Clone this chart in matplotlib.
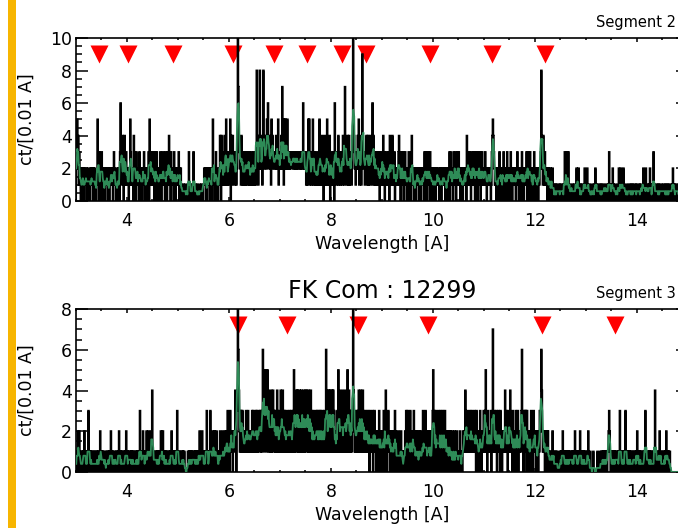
import numpy as np
import matplotlib
matplotlib.use("Agg")
import matplotlib.pyplot as plt
from matplotlib.patches import Rectangle
from matplotlib.ticker import MultipleLocator

# wavelength grid: 0.01 A bins from 3 to 15 A
lam_lo, lam_hi, dlam = 3.0, 15.0, 0.01

# counts per 0.01 A bin, one row per angstrom, ten bins per group
# (hex digits so that 'a' = 10, 'c' = 12)
seg2_counts = [
    "2352413120 1202120112 2101221012 1210212101 1152031203 3120121021 1210201212 2102312101 1202103621 1430242131",
    "2120125312 1204312031 2120312102 1213021201 2130521312 3120312031 2102132012 3121031203 2141203121 2031202121",
    "1302120101 1010110011 0310110101 3101101010 0110101101 1212021012 1210212051 2120312101 1242041321 1412521312",
    "3250431423 2132124c74 3231423121 2313213231 3121322131 2313832142 8232413823 3242536243 2315342322 3242325132",
    "3242723152 5232523232 3222332323 2323232232 3232262322 2131252512 3212521321 2131212513 2141302412 2153121402",
    "2312130623 3132413212 2314231732 3142141323 134c542312 3242513241 2943231324 3141324132 2614231313 2131302132",
    "2141302132 1213041312 4121302121 2134120312 1302131201 2130120341 1201210212 2102120121 1203213021 3120312102",
    "1201202112 2102120121 1212012102 1230312120 3121302131 3120212101 2121204131 2312031213 1302132031 2130213121",
    "1231201212 2120134543 2121021201 3120212031 1202130212 2031202121 1202131202 2120312021 1213031302 3120212031",
    "2102120212 2384214213 1212021201 2101201010 1010110101 0110101031 1031030101 1011010110 1210120101 0101101210",
    "1021011010 0110101021 1010110101 0101101101 1010130101 1021010110 0110201021 1012010110 0101101010 1010110101",
    "0110101011 1021010201 1010120101 0131010110 1010101101 0110101010 1010110101 2101010110 1010101011 0101010101",
]

seg3_counts = [
    "1012012010 0101012010 1010310101 0100101001 0101001201 1010110010 0101010120 1010011010 0101201010 1001010120",
    "1010110101 0101001010 1010031010 1201010120 0121010214 1010110101 0101012010 2010101010 0101010210 1010101031",
    "0101001010 1010000001 0101010101 1010101010 1020101201 0101013010 1013010120 1201021010 0120101201 1021201310",
    "1031212021 1242034a64 2131323121 1213121312 2121231312 2131312132 2313126351 3253152413 2141324132 3121413121",
    "2413142131 3121231213 2131213512 3142413142 1413241314 2142314131 4131213121 2313121313 1213121312 6141314241",
    "3142413121 2131521412 3141213412 2153141313 1329431213 2131413141 3141312131 2131203121 1302131202 2120312021",
    "1203120410 2131202120 1202031201 0120101210 1010120301 3020131021 2031020120 1020120101 3102031020 1202101203",
    "5130213021 1302130213 0213021201 1201201020 1020102101 0120101021 1214121312 2131213121 1312031210 2031201213",
    "2135120312 1213021721 3121302131 2031202121 2413120312 1421203120 2130213021 2123621031 3130312021 2030120312",
    "1201210213 2364212120 2102120101 1010201010 0101000010 1010210101 0101010101 1010101021 0101010120 1010101010",
    "0101200010 0000100000 0010000100 1010101010 1011232101 0101010101 1010103101 0101010310 1010101010 0101101010",
    "2010101010 0101013101 1010101010 0101040101 1010201010 0101010201 1010100000 0000000000 0000000000 0000000000",
]

# line markers (A)
seg2_lines = [3.46, 4.01, 4.90, 6.07, 6.88, 7.52, 8.22, 8.69, 9.94, 11.15, 12.19]
seg3_lines = [6.17, 7.14, 8.52, 9.90, 12.13, 13.56]


def decode(rows):
    digits = "".join(rows).replace(" ", "")
    return np.array([int(ch, 16) for ch in digits], dtype=float)


def draw_segment(ax, rows, lines, ymax, name, title=None):
    counts = decode(rows)
    edges = lam_lo + dlam * np.arange(len(counts) + 1)
    centers = edges[:-1] + dlam / 2
    smooth = np.convolve(counts, np.ones(5) / 5, mode="same")

    ax.plot(lines, np.full(len(lines), 0.9), "v", color="red", ms=13.5,
            mec="none", transform=ax.get_xaxis_transform(), zorder=1.5)
    ax.stairs(counts, edges, color="black", lw=1.5, zorder=2)
    ax.plot(centers, smooth, color="#2E8B57", lw=1.3, zorder=3)

    ax.set_xlim(lam_lo, lam_hi)
    ax.set_ylim(0, ymax)
    ax.xaxis.set_major_locator(MultipleLocator(2))
    ax.xaxis.set_minor_locator(MultipleLocator(0.5))
    ax.yaxis.set_major_locator(MultipleLocator(2))
    ax.yaxis.set_minor_locator(MultipleLocator(0.5))
    ax.tick_params(which="both", direction="in", top=True, right=True,
                   width=1.1, labelsize=12.5)
    ax.tick_params(axis="x", which="major", length=3, pad=8)
    ax.tick_params(axis="x", which="minor", length=1.6)
    ax.tick_params(axis="y", which="major", length=8.6, pad=3)
    ax.tick_params(axis="y", which="minor", length=4.3)
    for sp in ax.spines.values():
        sp.set_linewidth(1.2)

    ax.set_xlabel("Wavelength [A]", fontsize=12.5, va="center")
    ax.xaxis.set_label_coords(0.5, -0.261)
    ax.set_ylabel("ct/[0.01 A]", fontsize=12.5, va="center")
    ax.yaxis.set_label_coords(-0.080, 0.5)

    ax.text(0.8497, 1.0675, name, transform=ax.transAxes, fontsize=10.5,
            ha="left", va="baseline", clip_on=False)
    if title:
        ax.set_title(title, fontsize=17, pad=8)


fig = plt.figure(figsize=(6.78, 5.28), dpi=100)
ax_top = fig.add_axes([76 / 678, 1 - 201 / 528, 612 / 678, 163 / 528])
ax_bot = fig.add_axes([76 / 678, 1 - 472 / 528, 612 / 678, 163 / 528])

draw_segment(ax_top, seg2_counts, seg2_lines, 10, "Segment 2")
draw_segment(ax_bot, seg3_counts, seg3_lines, 8, "Segment 3", "FK Com : 12299")

# orange strip on the left edge
fig.add_artist(Rectangle((8 / 678, 0), 7.5 / 678, 1, transform=fig.transFigure,
                         color="#F7B500", lw=0))

fig.savefig("out.png", dpi=100)
